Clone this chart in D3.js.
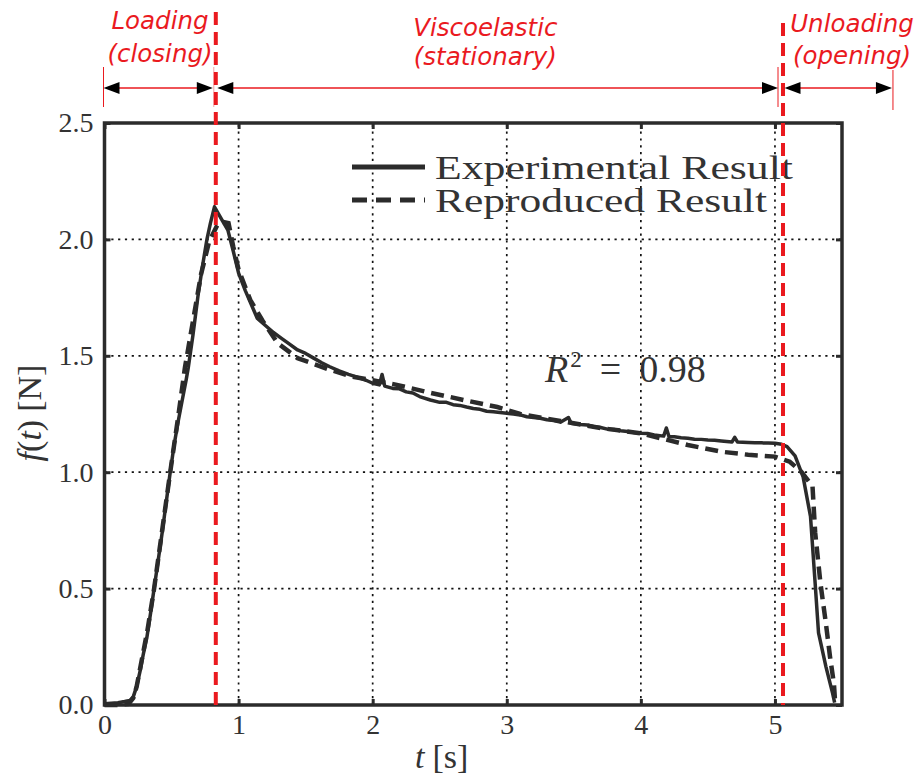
<!DOCTYPE html>
<html>
<head>
<meta charset="utf-8">
<script src="https://cdn.jsdelivr.net/npm/d3@7"></script>
<style>
  body { margin: 0; background: #fff; }
  svg { display: block; }
  .tick text { font-family: "Liberation Serif", serif; fill: #333; }
</style>
</head>
<body>
<div id="vis"></div>
<script>
// experimental curve (t in s, f in N)
var expT = [0.00, 0.05, 0.10, 0.15, 0.19, 0.215, 0.24, 0.267, 0.29, 0.316, 0.345, 0.37, 0.40, 0.43, 0.46, 0.49,
  0.52, 0.55, 0.58, 0.61, 0.625, 0.66, 0.70, 0.735, 0.764, 0.79, 0.82, 0.85, 0.88, 0.92, 0.96, 1.00,
  1.05, 1.09, 1.14, 1.20, 1.26, 1.32, 1.38, 1.44, 1.50, 1.56, 1.62, 1.68, 1.75, 1.82, 1.90, 1.95,
  2.00, 2.05, 2.07, 2.09, 2.15, 2.20, 2.25, 2.30, 2.35, 2.43, 2.50, 2.55, 2.60, 2.65, 2.70, 2.75,
  2.80, 2.85, 2.90, 2.95, 3.00, 3.05, 3.10, 3.15, 3.20, 3.25, 3.30, 3.35, 3.40, 3.46, 3.48, 3.55,
  3.60, 3.65, 3.70, 3.75, 3.80, 3.85, 3.90, 3.95, 4.00, 4.05, 4.10, 4.17, 4.19, 4.21, 4.25, 4.30,
  4.35, 4.40, 4.45, 4.50, 4.55, 4.60, 4.68, 4.70, 4.72, 4.76, 4.80, 4.85, 4.90, 4.95, 5.00, 5.05,
  5.09, 5.15, 5.21, 5.265, 5.30, 5.325, 5.38, 5.43, 5.445];
var expF = [0.005, 0.008, 0.010, 0.015, 0.020, 0.036, 0.08, 0.15, 0.22, 0.29, 0.40, 0.50, 0.62, 0.74, 0.87, 1.00,
  1.12, 1.22, 1.31, 1.40, 1.45, 1.59, 1.77, 1.90, 2.00, 2.07, 2.14, 2.11, 2.08, 2.04, 1.95, 1.855,
  1.78, 1.727, 1.66, 1.63, 1.60, 1.575, 1.55, 1.525, 1.51, 1.49, 1.47, 1.453, 1.435, 1.42, 1.405, 1.395,
  1.382, 1.375, 1.42, 1.37, 1.36, 1.358, 1.345, 1.340, 1.325, 1.31, 1.30, 1.300, 1.29, 1.287, 1.28, 1.274,
  1.27, 1.262, 1.26, 1.256, 1.253, 1.25, 1.246, 1.238, 1.235, 1.232, 1.225, 1.222, 1.215, 1.235, 1.21, 1.205,
  1.203, 1.195, 1.192, 1.185, 1.183, 1.178, 1.175, 1.17, 1.167, 1.166, 1.16, 1.155, 1.19, 1.152, 1.152, 1.148,
  1.146, 1.142, 1.141, 1.138, 1.137, 1.134, 1.13, 1.15, 1.13, 1.129, 1.128, 1.127, 1.126, 1.125, 1.124, 1.12,
  1.11, 1.07, 0.98, 0.81, 0.52, 0.31, 0.165, 0.05, 0.01];

// reproduced (model) curve
var repT = [0.00, 0.10, 0.18, 0.215, 0.24, 0.27, 0.32, 0.37, 0.43, 0.49, 0.55, 0.60, 0.66, 0.72, 0.78, 0.84,
  0.876, 0.925, 0.96, 1.00, 1.087, 1.18, 1.29, 1.44, 1.56, 1.68, 1.85, 2.00, 2.18, 2.40, 2.68, 2.93,
  3.10, 3.40, 3.70, 4.00, 4.35, 4.60, 4.80, 5.00, 5.11, 5.20, 5.28, 5.30, 5.34, 5.38, 5.41, 5.44, 5.45];
var repF = [0.00, 0.00, 0.005, 0.03, 0.08, 0.17, 0.32, 0.50, 0.75, 1.00, 1.24, 1.45, 1.65, 1.85, 1.99, 2.06,
  2.076, 2.07, 1.97, 1.87, 1.74, 1.65, 1.555, 1.49, 1.465, 1.44, 1.41, 1.395, 1.375, 1.345, 1.31, 1.28,
  1.25, 1.22, 1.19, 1.167, 1.117, 1.088, 1.075, 1.067, 1.045, 1.0, 0.94, 0.74, 0.52, 0.35, 0.21, 0.09, 0.0];

// axis ticks
var xTicks = [0, 1, 2, 3, 4, 5];
var yTicks = [0, 0.5, 1.0, 1.5, 2.0, 2.5];

// phase annotations above the plot
var phaseEdges = [0, 0.83, 5.06, 5.88];
var phaseNames = ['Loading', 'Viscoelastic', 'Unloading'];
var phaseSubs = ['(closing)', '(stationary)', '(opening)'];
var phaseLabelT = [0.414, 2.84, 5.575];

var legendNames = ['Experimental Result', 'Reproduced Result'];
var rSquared = '0.98';

var width = 917;
var height = 778;
var margin = { top: 123, left: 104.5, bottom: 73, right: 75 };
var red = '#ea1a1f';
var ink = '#2b2b2b';

var x = d3.scaleLinear().domain([0, 5.5]).range([margin.left, width - margin.right]);
var y = d3.scaleLinear().domain([0, 2.5]).range([height - margin.bottom, margin.top]);

var svg = d3.select('#vis').append('svg')
  .attr('width', width)
  .attr('height', height);

// dotted grid
svg.append('g')
  .selectAll('line')
  .data(xTicks.slice(1))
  .enter().append('line')
  .attr('x1', function (d) { return x(d); })
  .attr('x2', function (d) { return x(d); })
  .attr('y1', y(0)).attr('y2', y(2.5))
  .attr('stroke', '#111').attr('stroke-width', 1.7)
  .attr('stroke-dasharray', '2.2,4.6');

svg.append('g')
  .selectAll('line')
  .data(yTicks.slice(1, -1))
  .enter().append('line')
  .attr('y1', function (d) { return y(d); })
  .attr('y2', function (d) { return y(d); })
  .attr('x1', x(0)).attr('x2', x(5.5))
  .attr('stroke', '#111').attr('stroke-width', 1.7)
  .attr('stroke-dasharray', '2.2,4.6');

// axes, ticks drawn inwards
var xAxis = d3.axisBottom(x).tickValues(xTicks).tickFormat(d3.format('d'))
  .tickSizeInner(-6).tickSizeOuter(0).tickPadding(9);
var yAxis = d3.axisLeft(y).tickValues(yTicks).tickFormat(d3.format('.1f'))
  .tickSizeInner(-6).tickSizeOuter(0).tickPadding(11);
var xTop = d3.axisTop(x).tickValues(xTicks).tickFormat('').tickSizeInner(-6).tickSizeOuter(0);
var yRight = d3.axisRight(y).tickValues(yTicks).tickFormat('').tickSizeInner(-6).tickSizeOuter(0);

function styleAxis(sel) {
  sel.select('.domain').remove();
  sel.selectAll('.tick line').attr('stroke', ink).attr('stroke-width', 3);
  sel.selectAll('.tick text').attr('font-size', 28);
}

svg.append('g').attr('transform', 'translate(0,' + y(0) + ')').call(xAxis).call(styleAxis);
svg.append('g').attr('transform', 'translate(' + x(0) + ',0)').call(yAxis).call(styleAxis);
svg.append('g').attr('transform', 'translate(0,' + y(2.5) + ')').call(xTop).call(styleAxis);
svg.append('g').attr('transform', 'translate(' + x(5.5) + ',0)').call(yRight).call(styleAxis);

// curves
var line = d3.line()
  .x(function (d) { return x(d[0]); })
  .y(function (d) { return y(d[1]); });

svg.append('path')
  .datum(d3.zip(repT, repF))
  .attr('d', line)
  .attr('fill', 'none')
  .attr('stroke', ink)
  .attr('stroke-width', 4.5)
  .attr('stroke-dasharray', '13,7');

svg.append('path')
  .datum(d3.zip(expT, expF))
  .attr('d', line)
  .attr('fill', 'none')
  .attr('stroke', ink)
  .attr('stroke-width', 3.5)
  .attr('stroke-linejoin', 'round');

// frame
svg.append('rect')
  .attr('x', x(0)).attr('y', y(2.5))
  .attr('width', x(5.5) - x(0)).attr('height', y(0) - y(2.5))
  .attr('fill', 'none').attr('stroke', ink).attr('stroke-width', 3.5);

// legend
var legend = svg.append('g').attr('font-family', '"Liberation Serif", serif').attr('fill', '#333');
legend.append('line').attr('x1', 352).attr('x2', 425).attr('y1', 167).attr('y2', 167)
  .attr('stroke', ink).attr('stroke-width', 5);
legend.append('line').attr('x1', 352).attr('x2', 425).attr('y1', 200).attr('y2', 200)
  .attr('stroke', ink).attr('stroke-width', 5).attr('stroke-dasharray', '15,9');
legend.append('text').attr('x', 435).attr('y', 179).attr('font-size', 33)
  .attr('textLength', 358).attr('lengthAdjust', 'spacingAndGlyphs').text(legendNames[0]);
legend.append('text').attr('x', 435).attr('y', 212).attr('font-size', 33)
  .attr('textLength', 332).attr('lengthAdjust', 'spacingAndGlyphs').text(legendNames[1]);

// R^2 label
var r2 = svg.append('text').attr('x', 545).attr('y', 382)
  .attr('font-family', '"Liberation Serif", serif').attr('font-size', 38).attr('fill', '#333');
r2.append('tspan').attr('font-style', 'italic').text('R');
r2.append('tspan').attr('font-size', 23).attr('dy', -15).attr('dx', 2).text('2');
r2.append('tspan').attr('dy', 15).attr('dx', 18).text('=');
r2.append('tspan').attr('dx', 18).text(rSquared);

// axis titles
var xTitle = svg.append('text').attr('x', 415).attr('y', 768)
  .attr('font-family', '"Liberation Serif", serif').attr('font-size', 34).attr('fill', '#333');
xTitle.append('tspan').attr('font-style', 'italic').text('t');
xTitle.append('tspan').attr('dx', 8).text('[s]');

var yTitle = svg.append('text')
  .attr('transform', 'translate(41,413) rotate(-90)')
  .attr('text-anchor', 'middle')
  .attr('font-family', '"Liberation Serif", serif').attr('font-size', 34).attr('fill', '#333');
yTitle.append('tspan').attr('font-style', 'italic').text('f');
yTitle.append('tspan').text('(');
yTitle.append('tspan').attr('font-style', 'italic').text('t');
yTitle.append('tspan').text(')');
yTitle.append('tspan').attr('dx', 8).text('[N]');

// phase boundaries
var bounds = [phaseEdges[1], phaseEdges[2]];
var boundTop = [12, 23];
svg.append('g').selectAll('line')
  .data(bounds)
  .enter().append('line')
  .attr('x1', function (d) { return x(d); })
  .attr('x2', function (d) { return x(d); })
  .attr('y1', function (d, i) { return boundTop[i]; })
  .attr('y2', y(0))
  .attr('stroke', red).attr('stroke-width', 4)
  .attr('stroke-dasharray', '13,7');

// arrows between boundaries
var arrowY = 88;
var ann = svg.append('g');

function arrowHead(tip, dir) {
  var len = 16, half = 6;
  ann.append('path')
    .attr('d', 'M' + tip + ',' + arrowY + 'L' + (tip - dir * len) + ',' + (arrowY - half) +
      'L' + (tip - dir * len) + ',' + (arrowY + half) + 'Z')
    .attr('fill', '#000');
}

var tickXs = [x(phaseEdges[0]) - 1, x(phaseEdges[1]) - 2, x(phaseEdges[2]) - 5, x(phaseEdges[3])];
ann.selectAll('line.tk')
  .data(tickXs)
  .enter().append('line')
  .attr('class', 'tk')
  .attr('x1', function (d) { return d; })
  .attr('x2', function (d) { return d; })
  .attr('y1', function (d, i) { return i === 3 ? 70 : 67; })
  .attr('y2', function (d, i) { return i === 3 ? 110 : 107; })
  .attr('stroke', red).attr('stroke-width', 1)
  .attr('opacity', function (d, i) { return i === 1 ? 0.4 : 1; });

for (var i = 0; i < 3; i++) {
  var a = x(phaseEdges[i]) + (i === 0 ? -1 : 1.5);
  var b = x(phaseEdges[i + 1]) - (i === 1 ? 5 : (i === 0 ? 3 : 1));
  ann.append('line')
    .attr('x1', a + 10).attr('x2', b - 10)
    .attr('y1', arrowY).attr('y2', arrowY)
    .attr('stroke', red).attr('stroke-width', 1.3);
  arrowHead(a, -1);
  arrowHead(b, 1);
}

// phase labels
var lineOne = [29, 36, 32];
var lineTwo = [62, 65, 64];
var labels = svg.append('g')
  .attr('font-family', '"DejaVu Sans", sans-serif')
  .attr('font-style', 'italic')
  .attr('font-size', 24.5)
  .attr('fill', red)
  .attr('text-anchor', 'middle');

phaseNames.forEach(function (name, i) {
  labels.append('text').attr('x', x(phaseLabelT[i])).attr('y', lineOne[i]).text(name);
  labels.append('text').attr('x', x(phaseLabelT[i])).attr('y', lineTwo[i]).text(phaseSubs[i]);
});
</script>
</body>
</html>
